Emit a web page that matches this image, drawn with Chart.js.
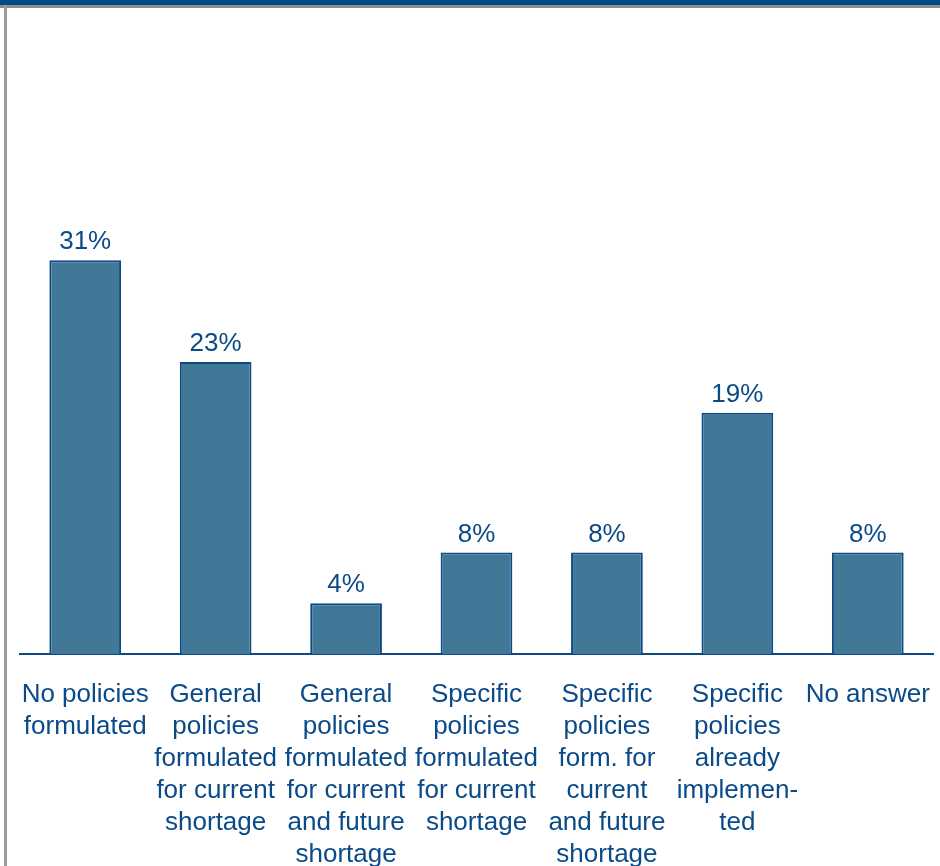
<!DOCTYPE html>
<html>
<head>
<meta charset="utf-8">
<title>Policies</title>
<script src="https://cdn.jsdelivr.net/npm/chart.js@4/dist/chart.umd.min.js"></script>
<style>
    body { margin: 0; background: #fff; }
    canvas { display: block; }
</style>
</head>
<body>
<canvas id="myChart" width="940" height="866"></canvas>
<script>
// answers, share of respondents in %
var categories = [
    ['No policies', 'formulated'],
    ['General', 'policies', 'formulated', 'for current', 'shortage'],
    ['General', 'policies', 'formulated', 'for current', 'and future', 'shortage'],
    ['Specific', 'policies', 'formulated', 'for current', 'shortage'],
    ['Specific', 'policies', 'form. for', 'current', 'and future', 'shortage'],
    ['Specific', 'policies', 'already', 'implemen-', 'ted'],
    ['No answer']
];
var shares = [31, 23, 4, 8, 8, 19, 8];

var blueText = '#0b4a88';
var fontFam = "'Liberation Sans', Arial, sans-serif";

// frame: dark band on top, grey rule on the left
var framePlugin = {
    id: 'frame',
    beforeDraw: function (chart) {
        var c = chart.ctx;
        c.save();
        c.fillStyle = '#fff';
        c.fillRect(0, 0, chart.width, chart.height);
        c.fillStyle = '#004a87';
        c.fillRect(0, 0, chart.width, 5);
        c.fillStyle = '#8c8c8c';
        c.fillRect(0, 5, chart.width, 3);
        c.fillStyle = '#9a9a9a';
        c.fillRect(4, 5, 3, chart.height - 5);
        c.restore();
    }
};

// percent labels above the bars
var valuePlugin = {
    id: 'values',
    afterDatasetsDraw: function (chart) {
        var c = chart.ctx;
        var meta = chart.getDatasetMeta(0);
        c.save();
        c.font = '26px ' + fontFam;
        c.fillStyle = blueText;
        c.textAlign = 'center';
        c.textBaseline = 'middle';
        meta.data.forEach(function (bar, i) {
            c.fillText(shares[i] + '%', bar.x, bar.y - 18);
        });
        c.restore();
    }
};

var ctx = document.getElementById('myChart');
var xx = new Chart(ctx, {
    type: 'bar',
    data: {
        labels: categories,
        datasets: [{
            data: shares,
            backgroundColor: '#417797',
            borderColor: '#0d4a85',
            borderWidth: 2,
            categoryPercentage: 1.0,
            barPercentage: 0.55
        }]
    },
    options: {
        responsive: false,
        animation: false,
        layout: {
            padding: { top: 19, left: 20, right: 7, bottom: 0 }
        },
        plugins: {
            legend: { display: false },
            tooltip: { enabled: false }
        },
        scales: {
            x: {
                grid: { display: false },
                border: { display: true, color: '#0d4a85', width: 2 },
                ticks: {
                    autoSkip: false,
                    maxRotation: 0,
                    minRotation: 0,
                    padding: 17,
                    color: blueText,
                    font: { family: fontFam, size: 26, lineHeight: 1.23 }
                },
                afterFit: function (scale) {
                    scale.height = 212;
                    scale.paddingLeft = 0;
                    scale.paddingRight = 0;
                }
            },
            y: {
                display: false,
                min: 0,
                max: 50
            }
        }
    },
    plugins: [framePlugin, valuePlugin]
});
</script>
</body>
</html>
